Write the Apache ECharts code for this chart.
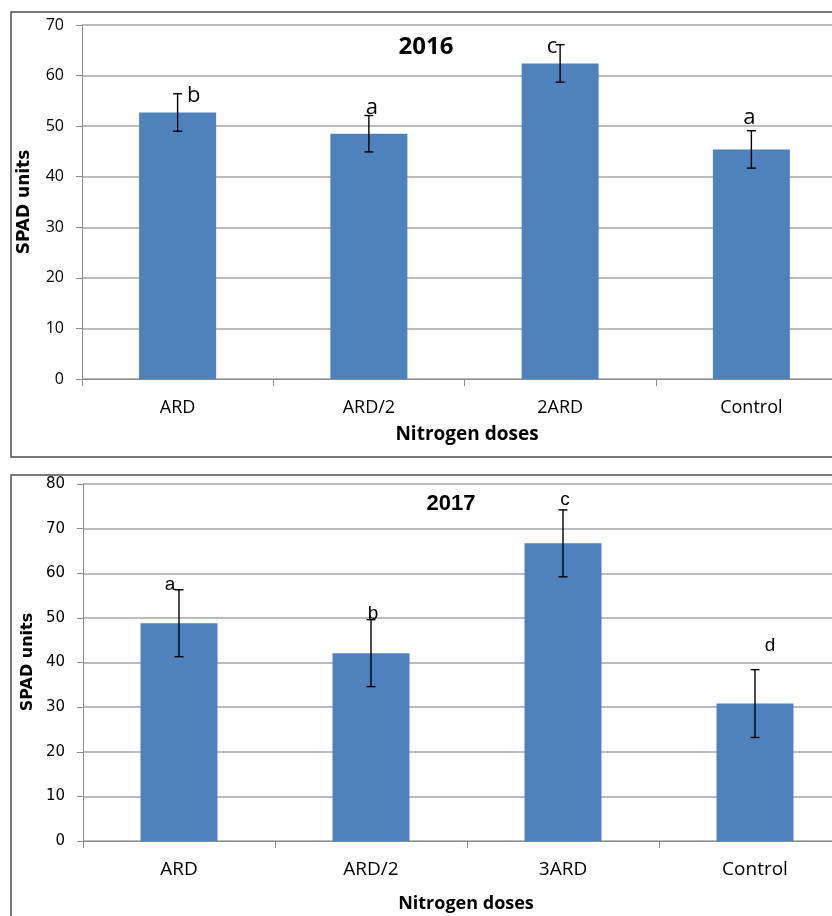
<!DOCTYPE html>
<html>
<head>
<meta charset="utf-8">
<script src="https://cdn.jsdelivr.net/npm/echarts@6/dist/echarts.min.js"></script>
<style>
  html, body { margin: 0; padding: 0; background: #fff; }
  #chart { width: 832px; height: 916px; }
</style>
</head>
<body>
<div id="chart"></div>
<script>
// SPAD readings per nitrogen dose, with standard deviation and significance letters
const cats2016 = ['ARD', 'ARD/2', '2ARD', 'Control'];
const spad2016 = [52.7, 48.5, 62.4, 45.4];
const sd2016 = [3.7, 3.6, 3.7, 3.7];
const letters2016 = ['b', 'a', 'c', 'a'];

const cats2017 = ['ARD', 'ARD/2', '3ARD', 'Control'];
const spad2017 = [48.8, 42.1, 66.7, 30.8];
const sd2017 = [7.5, 7.5, 7.5, 7.6];
const letters2017 = ['a', 'b', 'c', 'd'];

const yTicks2016 = [0, 10, 20, 30, 40, 50, 60, 70];
const yTicks2017 = [0, 10, 20, 30, 40, 50, 60, 70, 80];

// letter placement relative to the top of each error bar (px)
const letterShift2016 = [[16, 2], [3, -8], [-8, 2], [-2, -13]];
const letterShift2017 = [[-9, -5], [2, -6], [2, -10], [15, -24]];

const BAR = '#4f81bd';
const GRID_LINE = '#a6a6a6';
const AXIS_LINE = '#8c8c8c';

function errorSeries(idx, means, sds, letters, shifts, letterFont) {
  return {
    type: 'custom',
    xAxisIndex: idx,
    yAxisIndex: idx,
    z: 5,
    data: means.map((m, i) => [i, m - sds[i], m + sds[i]]),
    renderItem: function (params, api) {
      const i = api.value(0);
      const top = api.coord([i, api.value(2)]);
      const bot = api.coord([i, api.value(1)]);
      const cap = 4.5;
      const st = { stroke: '#000', lineWidth: 1.4 };
      const sh = shifts[params.dataIndex];
      return {
        type: 'group',
        children: [
          { type: 'line', shape: { x1: top[0], y1: top[1], x2: bot[0], y2: bot[1] }, style: st },
          { type: 'line', shape: { x1: top[0] - cap, y1: top[1], x2: top[0] + cap, y2: top[1] }, style: st },
          { type: 'line', shape: { x1: bot[0] - cap, y1: bot[1], x2: bot[0] + cap, y2: bot[1] }, style: st },
          {
            type: 'text',
            style: {
              text: letters[params.dataIndex],
              x: top[0] + sh[0],
              y: top[1] + sh[1],
              align: 'center',
              verticalAlign: 'middle',
              font: letterFont,
              fill: '#000'
            }
          }
        ]
      };
    }
  };
}

function catAxis(idx, cats, margin, font, size) {
  return {
    type: 'category',
    gridIndex: idx,
    data: cats,
    boundaryGap: true,
    axisLine: { show: true, lineStyle: { color: AXIS_LINE, width: 1 } },
    axisTick: { show: true, length: 7, alignWithLabel: false, lineStyle: { color: AXIS_LINE } },
    axisLabel: { margin: margin, color: '#000', fontFamily: font, fontSize: size, interval: 0 },
    splitLine: { show: false }
  };
}

function valAxis(idx, ticks, font, size) {
  return {
    type: 'value',
    gridIndex: idx,
    min: ticks[0],
    max: ticks[ticks.length - 1],
    interval: ticks[1] - ticks[0],
    axisLine: { show: true, lineStyle: { color: AXIS_LINE, width: 1 } },
    axisTick: { show: true, length: 6, lineStyle: { color: AXIS_LINE } },
    axisLabel: { margin: 18, color: '#000', fontFamily: font, fontSize: size },
    splitLine: { show: true, lineStyle: { color: GRID_LINE, width: 1.5 } }
  };
}

const chart = echarts.init(document.getElementById('chart'), null, { renderer: 'canvas' });

chart.setOption({
  backgroundColor: '#fff',
  animation: false,
  grid: [
    // plot areas run past the right edge of the page
    { left: 82, top: 25, width: 765, height: 354, containLabel: false, outerBoundsMode: 'none' },
    { left: 83, top: 484, width: 768, height: 357, containLabel: false, outerBoundsMode: 'none' }
  ],
  xAxis: [
    catAxis(0, cats2016, 20, 'Open Sans', 18),
    catAxis(1, cats2017, 19, 'Open Sans', 19)
  ],
  yAxis: [
    valAxis(0, yTicks2016, 'Open Sans', 16),
    valAxis(1, yTicks2017, 'DejaVu Sans', 15)
  ],
  series: [
    {
      type: 'bar', xAxisIndex: 0, yAxisIndex: 0, data: spad2016,
      barWidth: 77, itemStyle: { color: BAR }
    },
    {
      type: 'bar', xAxisIndex: 1, yAxisIndex: 1, data: spad2017,
      barWidth: 77, itemStyle: { color: BAR }
    },
    errorSeries(0, spad2016, sd2016, letters2016, letterShift2016, '22px "Open Sans"'),
    errorSeries(1, spad2017, sd2017, letters2017, letterShift2017, '19px "Liberation Sans"')
  ],
  graphic: [
    // panel frames
    { type: 'rect', silent: true, z: -1, shape: { x: 11, y: 12, width: 840, height: 445 },
      style: { fill: 'none', stroke: '#4d4d4d', lineWidth: 1.5 } },
    { type: 'rect', silent: true, z: -1, shape: { x: 11, y: 475, width: 840, height: 460 },
      style: { fill: 'none', stroke: '#4d4d4d', lineWidth: 1.5 } },
    // panel titles
    { type: 'text', silent: true, z: 10, style: { text: '2016', x: 426, y: 47, align: 'center', verticalAlign: 'middle',
      font: 'bold 24px "Open Sans"', fill: '#000' } },
    { type: 'text', silent: true, z: 10, style: { text: '2017', x: 451, y: 504, align: 'center', verticalAlign: 'middle',
      font: 'bold 22px "Liberation Sans"', fill: '#000' } },
    // axis names
    { type: 'text', silent: true, z: 10, style: { text: 'Nitrogen doses', x: 467, y: 435, align: 'center', verticalAlign: 'middle',
      font: 'bold 19px "Open Sans"', fill: '#000' } },
    { type: 'text', silent: true, z: 10, style: { text: 'Nitrogen doses', x: 466, y: 904, align: 'center', verticalAlign: 'middle',
      font: 'bold 18px "Open Sans"', fill: '#000' } },
    { type: 'text', silent: true, z: 10, x: 25, y: 202, rotation: Math.PI / 2,
      style: { text: 'SPAD units', x: 0, y: 0, align: 'center', verticalAlign: 'middle',
        font: 'bold 17px "DejaVu Sans"', fill: '#000' } },
    { type: 'text', silent: true, z: 10, x: 28, y: 662, rotation: Math.PI / 2,
      style: { text: 'SPAD units', x: 0, y: 0, align: 'center', verticalAlign: 'middle',
        font: 'bold 16px "DejaVu Sans"', fill: '#000' } }
  ]
});
</script>
</body>
</html>
